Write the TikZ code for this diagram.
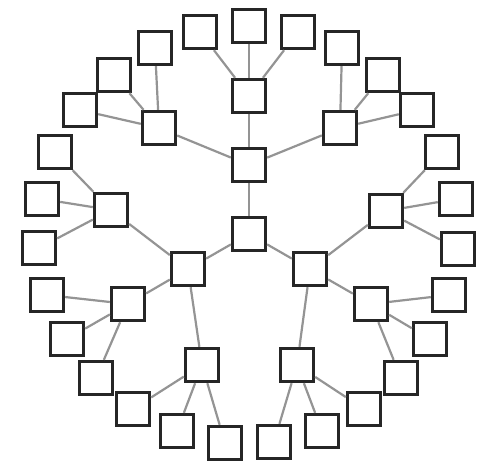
\documentclass[tikz,border=0pt]{standalone}
\begin{document}
\begin{tikzpicture}[x=1pt,y=-1pt,
  box/.style={draw=black!85,line width=3.4pt,fill=white,minimum size=33pt,inner sep=0pt},
  link/.style={draw=black!42,line width=2.2pt}]
\useasboundingbox (0,0) rectangle (484,464);
% nodes
\node[box] (r) at (249,234) {};
\node[box] (t) at (249,165) {};
\node[box] (l) at (188,269) {};
\node[box] (rr) at (310,269) {};
\node[box] (tc) at (249,96) {};
\node[box] (tl) at (159,128) {};
\node[box] (tr) at (340,128) {};
\node[box] (tc1) at (200,32) {};
\node[box] (tc2) at (249,26) {};
\node[box] (tc3) at (298,32) {};
\node[box] (tl1) at (155,48) {};
\node[box] (tl2) at (114,75) {};
\node[box] (tl3) at (80,110) {};
\node[box] (tr1) at (342,48) {};
\node[box] (tr2) at (383,75) {};
\node[box] (tr3) at (417,110) {};
\node[box] (la) at (111,210) {};
\node[box] (lb) at (128,304) {};
\node[box] (lc) at (202,365) {};
\node[box] (la1) at (55,152) {};
\node[box] (la2) at (42,199) {};
\node[box] (la3) at (39,248) {};
\node[box] (lb1) at (47,295) {};
\node[box] (lb2) at (67,339) {};
\node[box] (lb3) at (96,378) {};
\node[box] (lc1) at (133,409) {};
\node[box] (lc2) at (177,431) {};
\node[box] (lc3) at (225,443) {};
\node[box] (ra) at (386,211) {};
\node[box] (rb) at (371,304) {};
\node[box] (rc) at (297,365) {};
\node[box] (ra1) at (442,152) {};
\node[box] (ra2) at (456,199) {};
\node[box] (ra3) at (458,249) {};
\node[box] (rb1) at (449,295) {};
\node[box] (rb2) at (430,339) {};
\node[box] (rb3) at (401,378) {};
\node[box] (rc1) at (364,409) {};
\node[box] (rc2) at (322,431) {};
\node[box] (rc3) at (274,442) {};
% links
\foreach \a/\b in {r/t,r/l,r/rr,t/tc,t/tl,t/tr,tc/tc1,tc/tc2,tc/tc3,
  tl/tl1,tl/tl2,tl/tl3,tr/tr1,tr/tr2,tr/tr3,
  l/la,l/lb,l/lc,la/la1,la/la2,la/la3,lb/lb1,lb/lb2,lb/lb3,lc/lc1,lc/lc2,lc/lc3,
  rr/ra,rr/rb,rr/rc,ra/ra1,ra/ra2,ra/ra3,rb/rb1,rb/rb2,rb/rb3,rc/rc1,rc/rc2,rc/rc3}
  \draw[link] (\a) -- (\b);
\end{tikzpicture}
\end{document}
